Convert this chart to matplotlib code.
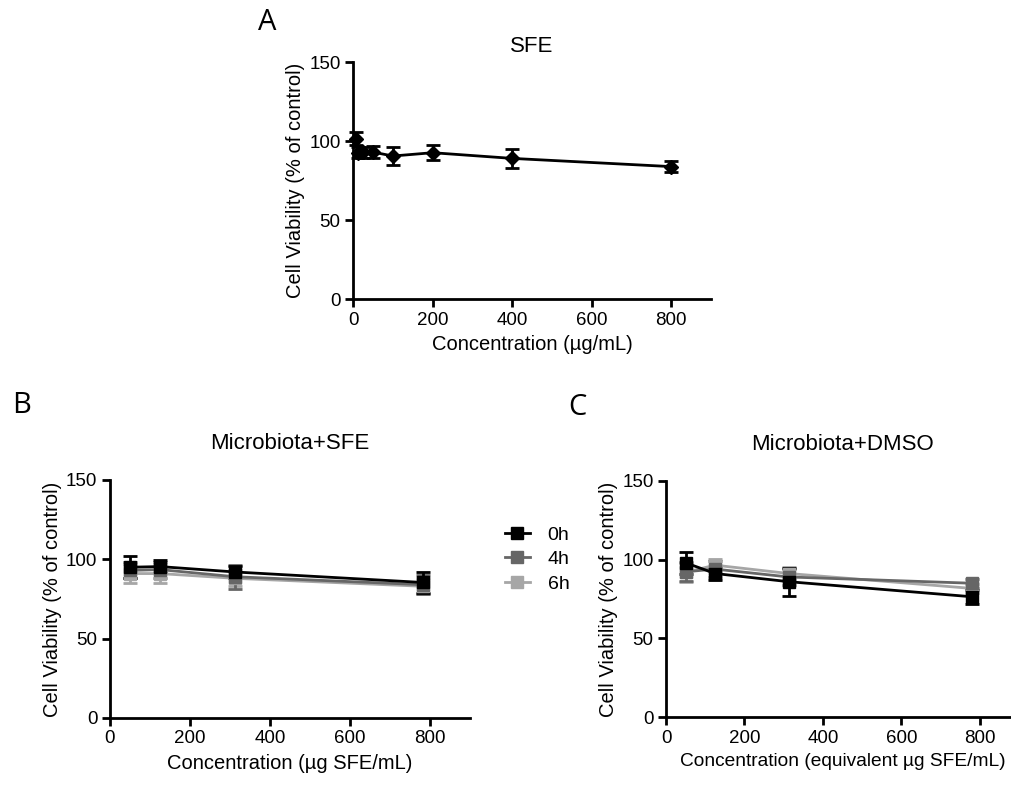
import matplotlib
matplotlib.use("Agg")
from matplotlib import pyplot as plt
from matplotlib.lines import Line2D

plt.rcParams['font.family'] = ['Liberation Sans', 'DejaVu Sans']

# Panel A: SFE alone
conc_a = [6.25, 12.5, 25, 50, 100, 200, 400, 800]
via_a = [101.5, 92.5, 93, 93, 90.5, 92.6, 89, 83.8]
err_a = [4, 3.5, 3.5, 4, 5.5, 4.7, 6, 3.7]

# Panels B and C: microbiota-treated
conc_bc = [50, 125, 312.5, 781.25]
times = ['0h', '4h', '6h']
colors = ['#000000', '#666666', '#a6a6a6']

via_b = {'0h': [95, 95.4, 92, 85.4], '4h': [93, 93.5, 89, 84], '6h': [91, 91, 88, 83]}
err_b = {'0h': [7, 4, 3.5, 6.6], '4h': [5, 5, 7.5, 6], '6h': [6, 6, 5, 5]}

via_c = {'0h': [98, 91.2, 86, 76.4], '4h': [92.3, 94, 89, 85], '6h': [92, 96.5, 91.2, 81.7]}
err_c = {'0h': [7, 4, 8.8, 4.5], '4h': [6, 5, 5, 3], '6h': [6, 4, 4, 3]}

ylab = 'Cell Viability (% of control)'


def style(ax):
    ax.set_xlim(0, 900)
    ax.set_ylim(0, 150)
    ax.set_xticks([0, 200, 400, 600, 800])
    ax.set_yticks([0, 50, 100, 150])
    for s in ['top', 'right']:
        ax.spines[s].set_visible(False)
    for s in ['left', 'bottom']:
        ax.spines[s].set_linewidth(2)
    ax.tick_params(width=2, length=6, labelsize=13.5, pad=3)
    ax.set_ylabel(ylab, fontsize=14.5, labelpad=3)


fig = plt.figure(figsize=(10.11, 7.85), dpi=100)

axa = fig.add_axes([0.3492, 0.6191, 0.3541, 0.3019])
axa.errorbar(conc_a, via_a, yerr=err_a, color='black', lw=2, marker='D', ms=7,
             capsize=5, capthick=2, elinewidth=2, clip_on=False)
style(axa)
axa.set_xlabel('Concentration (µg/mL)', fontsize=14.5, labelpad=5)
axa.set_title('SFE', fontsize=16, pad=7)

axb = fig.add_axes([0.1088, 0.0854, 0.3561, 0.3032])
for t, c in zip(times[::-1], colors[::-1]):
    axb.errorbar(conc_bc, via_b[t], yerr=err_b[t], color=c, lw=2, marker='s', ms=9,
                 capsize=5, capthick=2, elinewidth=2, clip_on=False)
style(axb)
axb.set_xlabel('Concentration (µg SFE/mL)', fontsize=14.5, labelpad=5)
axb.set_title('Microbiota+SFE', fontsize=16, pad=22)
handles = [Line2D([], [], color=c, lw=2, marker='s', ms=9) for c in colors]
fig.legend(handles, times, loc='upper left', bbox_to_anchor=(0.482, 0.352),
           frameon=False, fontsize=14, handlelength=1.3, labelspacing=0.35,
           handletextpad=0.9)

axc = fig.add_axes([0.6588, 0.0866, 0.349, 0.3007])
for t, c in zip(times[::-1], colors[::-1]):
    axc.errorbar(conc_bc, via_c[t], yerr=err_c[t], color=c, lw=2, marker='s', ms=9,
                 capsize=5, capthick=2, elinewidth=2, clip_on=False)
style(axc)
axc.set_xlabel('Concentration (equivalent µg SFE/mL)', fontsize=13.8, labelpad=5)
axc.set_title('Microbiota+DMSO', fontsize=16, pad=22)

fig.text(0.255, 0.99, 'A', fontsize=21, family='Open Sans', va='top')
fig.text(0.012, 0.502, 'B', fontsize=21, family='Open Sans', va='top')
fig.text(0.562, 0.499, 'C', fontsize=21, family='Open Sans', va='top')

fig.savefig('out.png', dpi=100)
